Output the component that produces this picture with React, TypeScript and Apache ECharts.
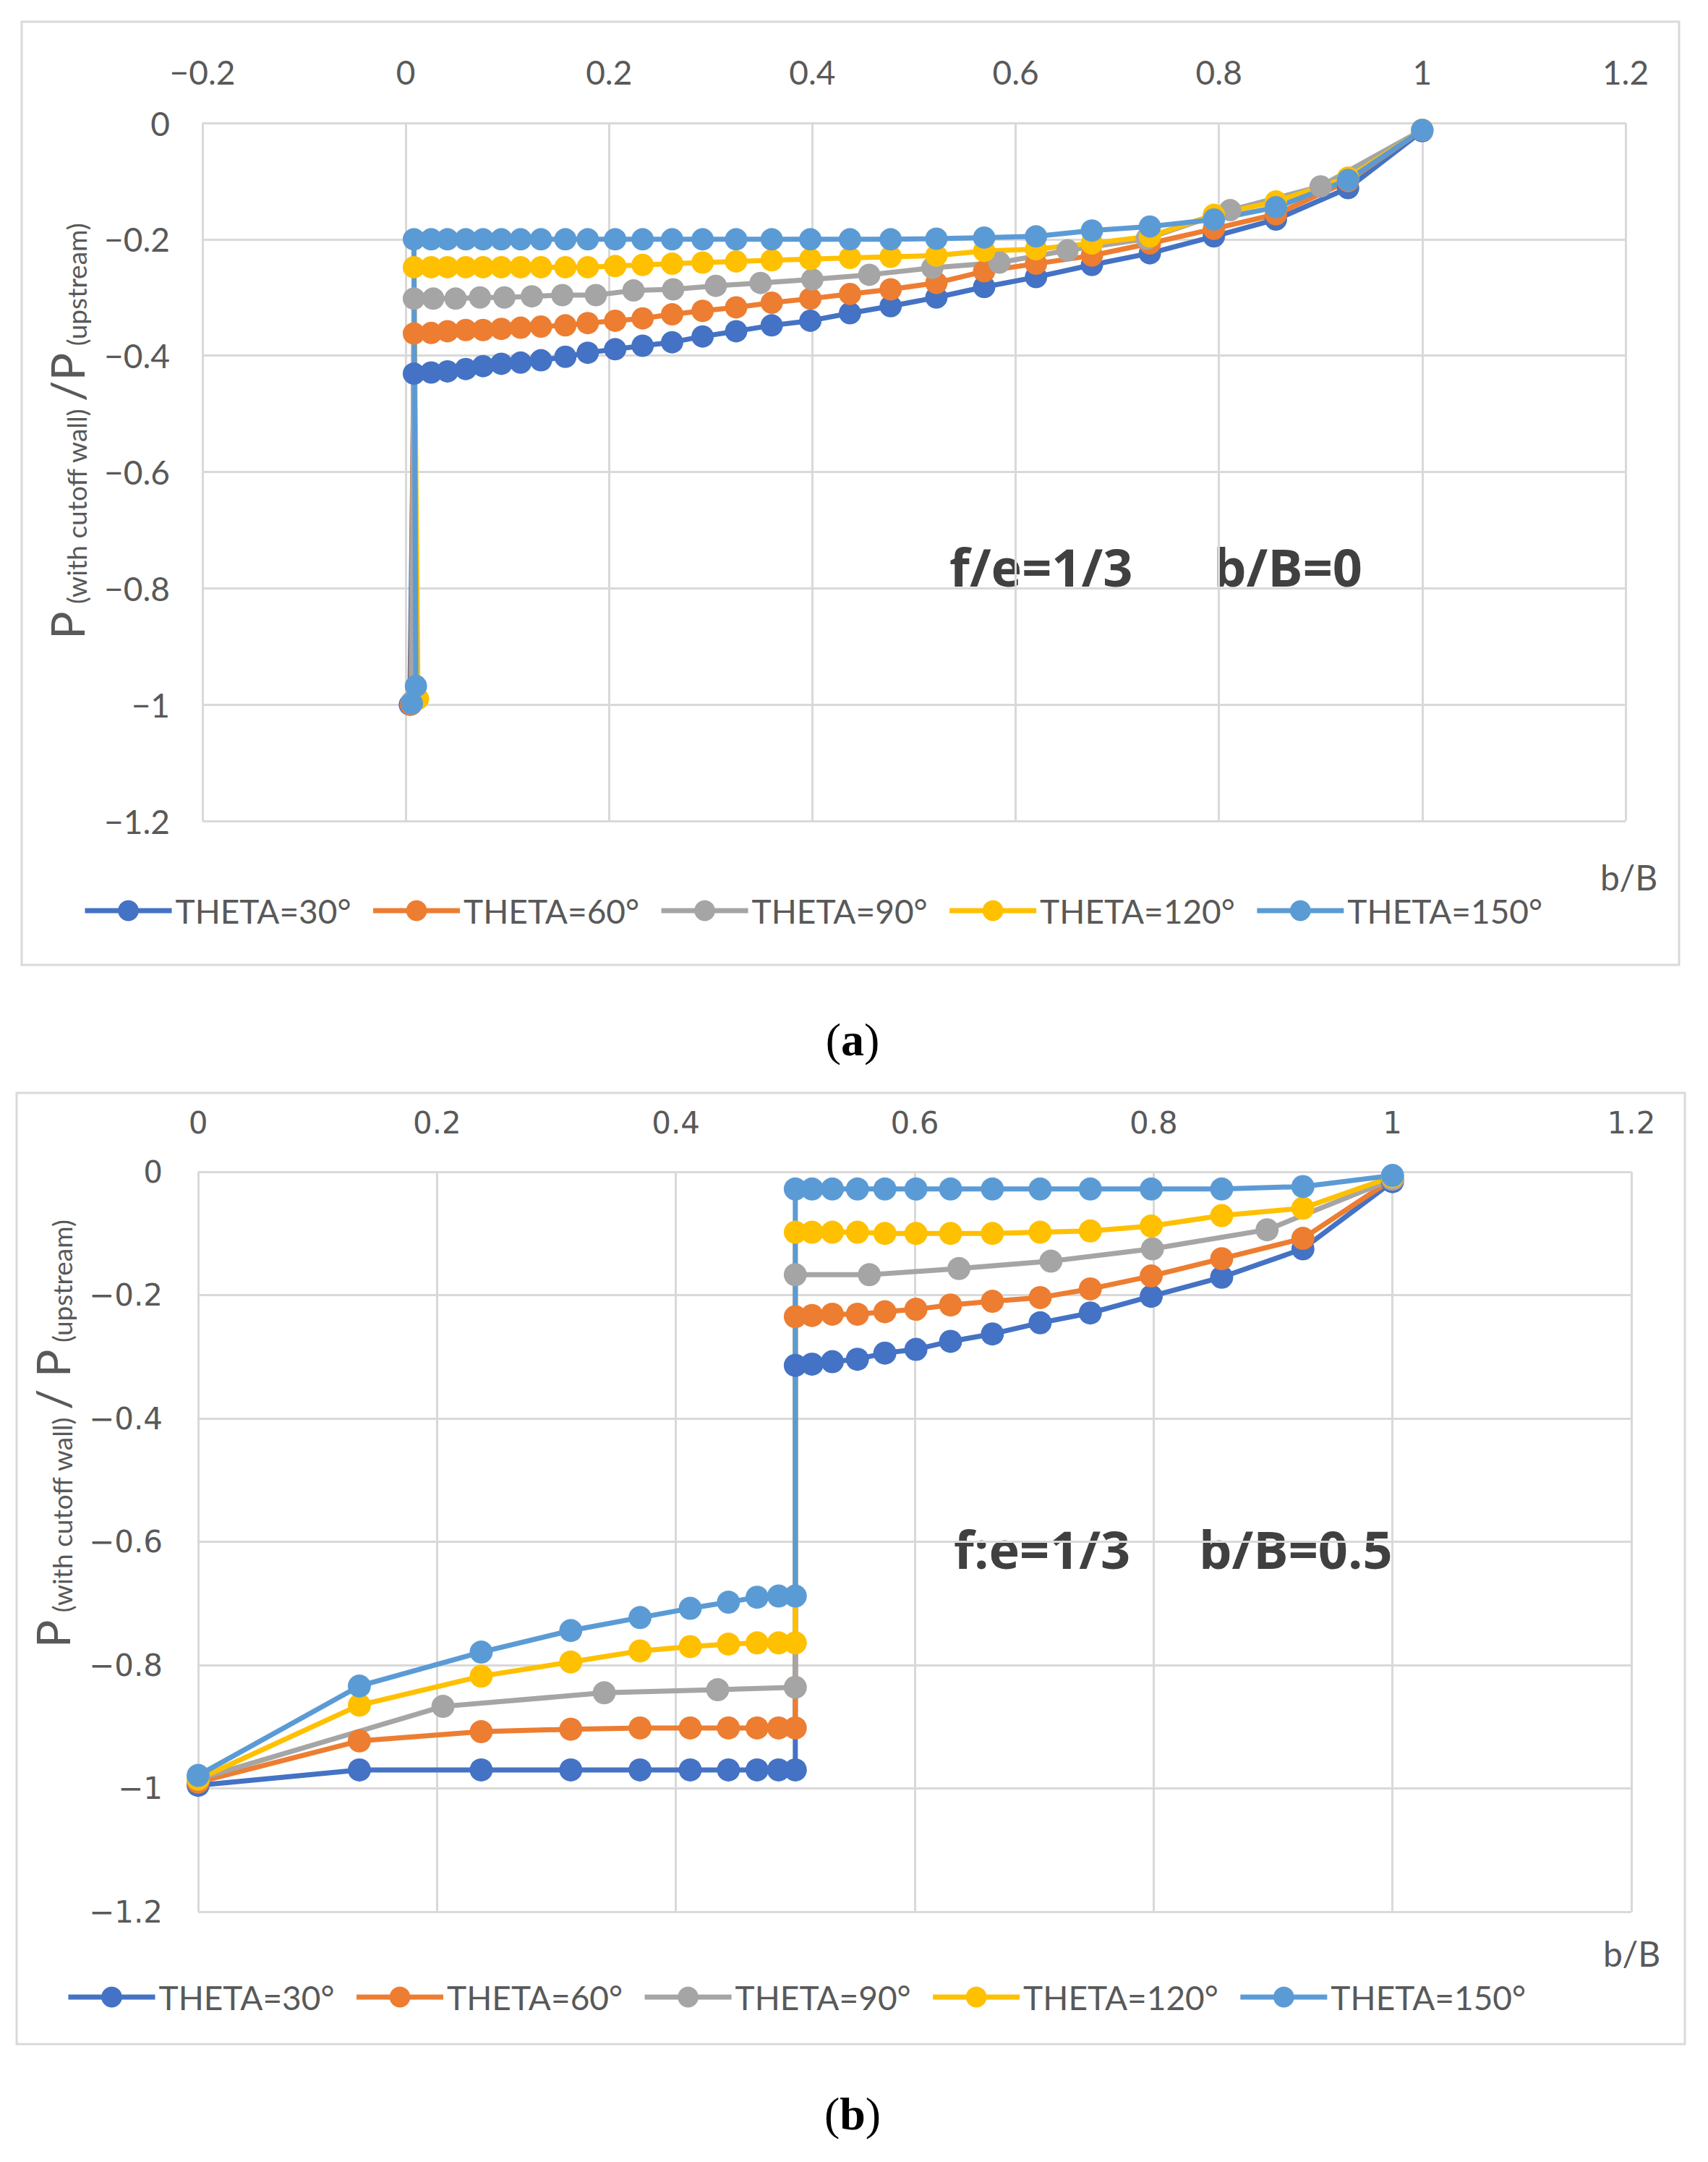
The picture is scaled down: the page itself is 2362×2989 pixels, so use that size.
import React, { useEffect, useRef } from 'react';
import * as echarts from 'echarts';

const W = 2362;
const H = 2989;

const NAMES = ['THETA=30°', 'THETA=60°', 'THETA=90°', 'THETA=120°', 'THETA=150°'];
const COLORS = ['#4472C4', '#ED7D31', '#A5A5A5', '#FFC000', '#5B9BD5'];

// ---- panel (a): f/e = 1/3, b/B = 0 ----
const xA = [0.008, 0.025, 0.041, 0.059, 0.076, 0.094, 0.113, 0.133, 0.157, 0.179, 0.206, 0.233, 0.262, 0.292,
    0.325, 0.36, 0.398, 0.437, 0.477, 0.522, 0.569, 0.62, 0.675, 0.732, 0.795, 0.856, 0.927, 1.0];
const xA90 = [0.008, 0.027, 0.049, 0.073, 0.097, 0.124, 0.154, 0.187, 0.224, 0.263, 0.305, 0.349, 0.4, 0.456,
    0.518, 0.584, 0.651, 0.729, 0.811, 0.9, 1.0];

// bottom of the drop near b/B = 0
const a30Lead = [[0.004, -1.0]];
const a60Lead = [[0.005, -1.0]];
const a90Lead = [[0.006, -0.995]];
const a120Lead = [[0.012, -0.99]];
const a150Lead = [[0.006, -0.998], [0.01, -0.968]];

const a30 = [-0.431, -0.429, -0.427, -0.423, -0.418, -0.414, -0.412, -0.408, -0.402, -0.395, -0.389, -0.383, -0.377,
    -0.367, -0.358, -0.348, -0.34, -0.327, -0.315, -0.3, -0.282, -0.265, -0.244, -0.224, -0.195, -0.166, -0.112, -0.014];
const a60 = [-0.362, -0.361, -0.358, -0.356, -0.356, -0.354, -0.352, -0.35, -0.348, -0.344, -0.34, -0.336, -0.329,
    -0.323, -0.317, -0.309, -0.302, -0.294, -0.286, -0.275, -0.255, -0.242, -0.228, -0.207, -0.182, -0.157, -0.1, -0.012];
const a90 = [-0.302, -0.302, -0.302, -0.3, -0.3, -0.298, -0.296, -0.296, -0.288, -0.286, -0.28, -0.275, -0.269,
    -0.261, -0.249, -0.24, -0.219, -0.199, -0.15, -0.109, -0.012];
const a120 = [-0.248, -0.248, -0.248, -0.248, -0.248, -0.248, -0.248, -0.248, -0.248, -0.248, -0.246, -0.244, -0.242,
    -0.24, -0.238, -0.236, -0.234, -0.232, -0.23, -0.228, -0.22, -0.217, -0.207, -0.195, -0.158, -0.135, -0.094, -0.012];
const a150 = [-0.2, -0.2, -0.2, -0.2, -0.2, -0.2, -0.2, -0.2, -0.2, -0.2, -0.2, -0.2, -0.2, -0.2, -0.2, -0.2, -0.2,
    -0.2, -0.2, -0.199, -0.197, -0.195, -0.185, -0.178, -0.166, -0.145, -0.098, -0.012];

// ---- panel (b): f:e = 1/3, b/B = 0.5 ----
const xB = [0, 0.135, 0.237, 0.312, 0.37, 0.412, 0.444, 0.468, 0.486, 0.5, 0.5, 0.514, 0.531, 0.552, 0.575, 0.601,
    0.63, 0.665, 0.705, 0.747, 0.798, 0.857, 0.925, 1.0];
const xB90 = [0, 0.205, 0.34, 0.435, 0.5, 0.5, 0.562, 0.637, 0.714, 0.799, 0.895, 1.0];

const b30 = [-0.995, -0.97, -0.97, -0.97, -0.97, -0.97, -0.97, -0.97, -0.97, -0.97, -0.314, -0.312, -0.308, -0.304,
    -0.294, -0.288, -0.275, -0.263, -0.245, -0.229, -0.202, -0.171, -0.125, -0.016];
const b60 = [-0.99, -0.923, -0.908, -0.904, -0.902, -0.902, -0.902, -0.902, -0.902, -0.902, -0.235, -0.233, -0.231,
    -0.231, -0.227, -0.223, -0.216, -0.21, -0.204, -0.19, -0.169, -0.141, -0.108, -0.012];
const b90 = [-0.985, -0.867, -0.845, -0.84, -0.836, -0.167, -0.167, -0.157, -0.145, -0.125, -0.094, -0.012];
const b120 = [-0.985, -0.865, -0.818, -0.795, -0.777, -0.77, -0.766, -0.764, -0.764, -0.764, -0.098, -0.098, -0.098,
    -0.098, -0.1, -0.1, -0.1, -0.1, -0.098, -0.096, -0.088, -0.071, -0.059, -0.008];
const b150 = [-0.979, -0.834, -0.779, -0.744, -0.723, -0.708, -0.698, -0.69, -0.688, -0.688, -0.028, -0.028, -0.028,
    -0.028, -0.028, -0.028, -0.028, -0.028, -0.028, -0.028, -0.028, -0.028, -0.024, -0.006];

const X_TICKS_A = { min: -0.2, max: 1.2, interval: 0.2 };
const X_TICKS_B = { min: 0, max: 1.2, interval: 0.2 };
const Y_TICKS = { min: -1.2, max: 0, interval: 0.2 };

const TEXT = '#595959';
const GRID_LINE = '#d9d9d9';

const fmt = (v: number) => {
    const r = Math.round(v * 10) / 10;
    return r === 0 ? '0' : String(r).replace('-', '\u2212');
};

const zip = (xs: number[], ys: number[]) => xs.map((x, i) => [x, ys[i]]);

const makeSeries = (i: number, data: number[][], axis: number, size: number, width: number) => ({
    type: 'line',
    name: NAMES[i],
    xAxisIndex: axis,
    yAxisIndex: axis,
    data,
    symbol: 'circle',
    symbolSize: size,
    showSymbol: true,
    clip: false,
    lineStyle: { width, color: COLORS[i] },
    itemStyle: { color: COLORS[i] },
    emphasis: { disabled: true },
});

const axisX = (grid: number, ticks: any, font: string, size: number, margin: number) => ({
    type: 'value',
    gridIndex: grid,
    ...ticks,
    position: 'top',
    axisLine: { show: false, onZero: true },
    axisTick: { show: false },
    axisLabel: { fontSize: size, fontFamily: font, color: TEXT, margin, formatter: fmt },
    splitLine: { show: true, lineStyle: { color: GRID_LINE, width: 3 } },
});

const axisY = (grid: number, font: string, size: number, margin: number) => ({
    type: 'value',
    gridIndex: grid,
    ...Y_TICKS,
    axisLine: { show: false, onZero: true },
    axisTick: { show: false },
    axisLabel: { fontSize: size, fontFamily: font, color: TEXT, margin, formatter: fmt },
    splitLine: { show: true, lineStyle: { color: GRID_LINE, width: 3 } },
});

const legend = (left: number, top: number) => ({
    left,
    top,
    data: NAMES,
    selectedMode: false,
    itemWidth: 120,
    itemHeight: 36,
    itemGap: 27,
    lineStyle: { width: 7 },
    textStyle: { fontSize: 46, fontFamily: 'Lato', color: TEXT },
});

const yTitle = (x: number, y: number, text: string) => ({
    type: 'text',
    x,
    y,
    rotation: Math.PI / 2,
    silent: true,
    style: {
        text,
        align: 'center',
        verticalAlign: 'middle',
        textAlign: 'center',
        textVerticalAlign: 'middle',
        rich: {
            p: { fontSize: 64, fontFamily: 'Lato', fill: TEXT, lineHeight: 64, verticalAlign: 'top' },
            s: { fontSize: 37, fontFamily: 'Lato', fill: TEXT, lineHeight: 37, verticalAlign: 'bottom', padding: [38, 0, 0, 0] },
        },
    },
});

const plainText = (x: number, y: number, text: string, font: string, fill: string, align = 'left') => ({
    type: 'text',
    x,
    y,
    silent: true,
    style: { text, font, fill, align, verticalAlign: 'middle', textAlign: align, textVerticalAlign: 'middle' },
});

const panelLabel = (x: number, y: number, letter: string) => ({
    type: 'text',
    x,
    y,
    silent: true,
    style: {
        text: `{n|(}{b|${letter}}{n|)}`,
        align: 'center',
        verticalAlign: 'middle',
        textAlign: 'center',
        textVerticalAlign: 'middle',
        rich: {
            n: { fontSize: 64, fontFamily: 'Liberation Serif', fill: '#000' },
            b: { fontSize: 64, fontFamily: 'Liberation Serif', fontWeight: 'bold', fill: '#000' },
        },
    },
});

const App: React.FC = () => {
    const chartRef = useRef<HTMLDivElement>(null);

    useEffect(() => {
        document.body.style.margin = '0';
        if (!chartRef.current) return;
        const chart = echarts.init(chartRef.current, undefined, { renderer: 'svg' });

        const series = [
            makeSeries(0, [...a30Lead, ...zip(xA, a30)], 0, 31, 7),
            makeSeries(1, [...a60Lead, ...zip(xA, a60)], 0, 31, 7),
            makeSeries(2, [...a90Lead, ...zip(xA90, a90)], 0, 31, 7),
            makeSeries(3, [...a120Lead, ...zip(xA, a120)], 0, 31, 7),
            makeSeries(4, [...a150Lead, ...zip(xA, a150)], 0, 31, 7),
            makeSeries(0, zip(xB, b30), 1, 32, 7),
            makeSeries(1, zip(xB, b60), 1, 32, 7),
            makeSeries(2, zip(xB90, b90), 1, 32, 7),
            makeSeries(3, zip(xB, b120), 1, 32, 7),
            makeSeries(4, zip(xB, b150), 1, 32, 7),
        ];

        chart.setOption({
            animation: false,
            backgroundColor: '#fff',
            grid: [
                { left: 280, top: 170, width: 1968, height: 965 },
                { left: 274, top: 1620, width: 1982, height: 1023 },
            ],
            xAxis: [
                axisX(0, X_TICKS_A, 'Lato', 46, 48),
                axisX(1, X_TICKS_B, 'DejaVu Sans', 42, 47),
            ],
            yAxis: [
                axisY(0, 'Lato', 46, 45),
                axisY(1, 'DejaVu Sans', 42, 49),
            ],
            legend: [legend(109, 1231), legend(86, 2733)],
            graphic: [
                { type: 'rect', silent: true, shape: { x: 30, y: 30, width: 2292, height: 1304 },
                    style: { fill: 'none', stroke: GRID_LINE, lineWidth: 3 } },
                { type: 'rect', silent: true, shape: { x: 23, y: 1511, width: 2307, height: 1315 },
                    style: { fill: 'none', stroke: GRID_LINE, lineWidth: 3 } },
                yTitle(92, 596, '{p|P}{s| (with cutoff wall) }{p|/P}{s| (upstream)}'),
                yTitle(72, 1982, '{p|P}{s| (with cutoff wall) }{p|/ P}{s| (upstream)}'),
                plainText(2213, 1212, 'b/B', '48px Lato', TEXT),
                plainText(2217, 2700, 'b/B', '48px Lato', TEXT),
                plainText(1313, 783, 'f/e=1/3', 'bold 72px "Open Sans"', '#404040'),
                plainText(1678, 783, 'b/B=0', 'bold 72px "Open Sans"', '#404040'),
                plainText(1319, 2141, 'f:e=1/3', 'bold 72px "Open Sans"', '#404040'),
                plainText(1658, 2141, 'b/B=0.5', 'bold 72px "Open Sans"', '#404040'),
                panelLabel(1179, 1437, 'a'),
                panelLabel(1179, 2922, 'b'),
            ],
            series,
        });

        return () => {
            chart.dispose();
        };
    }, []);

    return <div ref={chartRef} style={{ width: W, height: H }} />;
};

export default App;
